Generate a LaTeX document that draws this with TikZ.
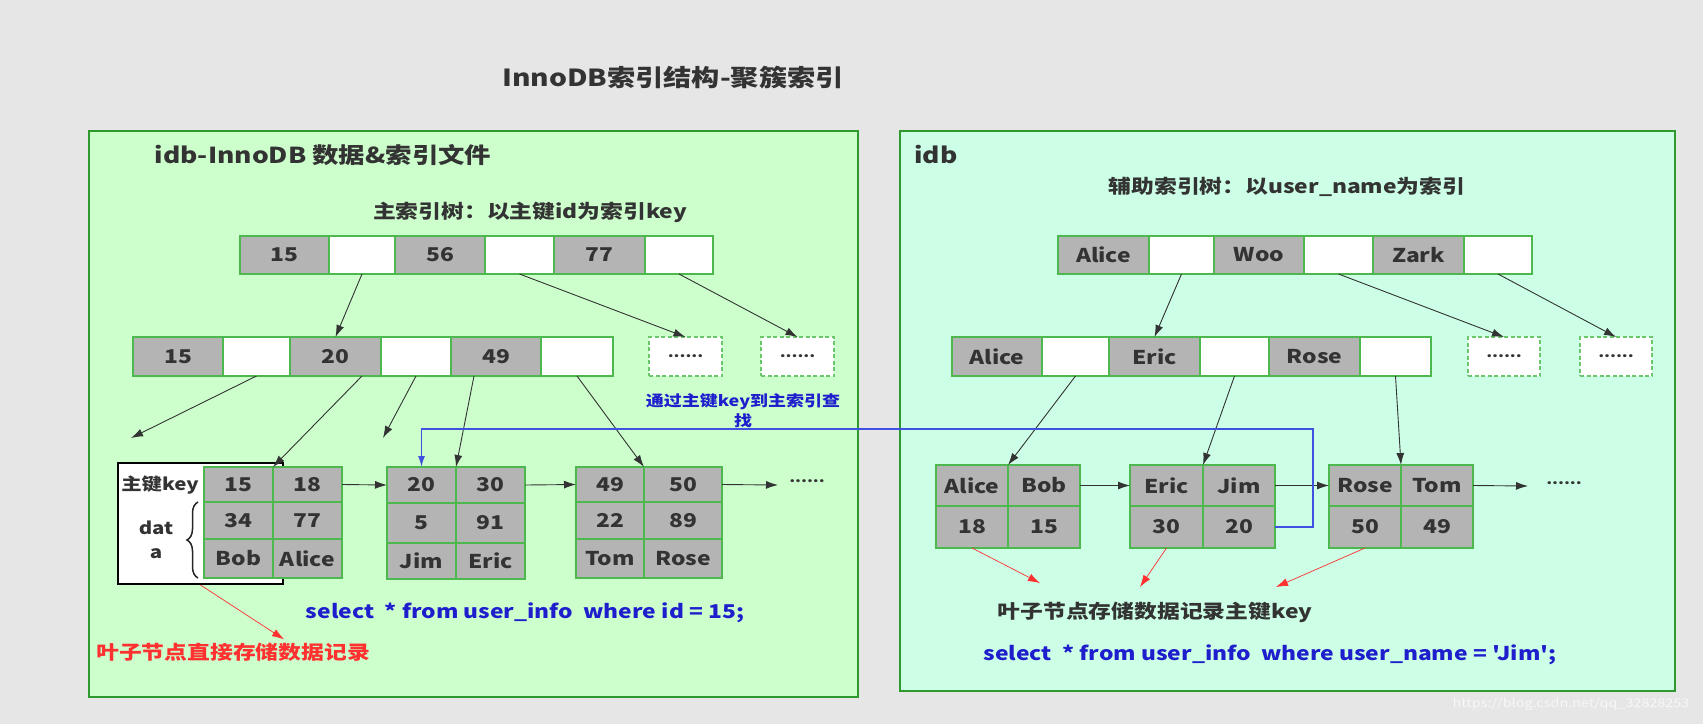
\documentclass[tikz,border=0pt]{standalone}
\usepackage{fontspec}
\newfontfamily\cjk{Noto Sans CJK SC}[FakeStretch=1.2]
\usetikzlibrary{arrows.meta,decorations.pathreplacing,calc}
\definecolor{bgc}{HTML}{E6E6E6}
\definecolor{leftfill}{HTML}{CCFFCC}
\definecolor{rightfill}{HTML}{CCFFE6}
\definecolor{boxgreen}{HTML}{2E9A2E}
\definecolor{cellgreen}{HTML}{4DB84D}
\definecolor{cellgray}{HTML}{B4B4B4}
\definecolor{dashgreen}{HTML}{6CC66C}
\definecolor{arrgray}{HTML}{333333}
\definecolor{blueline}{HTML}{4050E0}
\definecolor{bluetxt}{HTML}{1E1ECC}
\definecolor{redc}{HTML}{FF3030}
\definecolor{txt}{HTML}{333333}
\newcommand\fs[1]{\fontsize{#1}{#1}\selectfont}
\newcommand\mkcell[7]{\node[#2, minimum width=#5pt, minimum height=#6pt] (#1) at (#3,#4) {#7};}
\begin{document}
\begin{tikzpicture}[x=1pt,y=-1pt,
  every node/.style={font=\cjk\bfseries\fs{19}, text=txt},
  cellbase/.style={anchor=north west, inner sep=0pt, outer sep=0pt, draw=cellgreen, line width=1.6pt},
  gcell/.style={cellbase, fill=cellgray},
  wcell/.style={cellbase, fill=white},
  dcell/.style={anchor=north west, inner sep=0pt, outer sep=0pt, draw=dashgreen, line width=1.6pt, dash pattern=on 4pt off 2.5pt, fill=white, font=\cjk\bfseries\fs{14}},
  tarr/.style={draw=arrgray, line width=0.9pt, -{Latex[length=12pt,width=8pt]}},
  rarr/.style={draw=redc, line width=0.7pt, -{Latex[length=12pt,width=8pt]}},
  bline/.style={draw=blueline, line width=1.5pt, -{Latex[length=11pt,width=7pt]}},
  bigbox/.style={anchor=north west, inner sep=0pt, outer sep=0pt, draw=boxgreen, line width=2.4pt},
  dotsnode/.style={font=\cjk\bfseries\fs{14}}
]
\fill[bgc] (0,0) rectangle (1703,724);
\useasboundingbox (0,0) rectangle (1703,724);

% panels
\node[bigbox, fill=leftfill, minimum width=769pt, minimum height=566pt] (lbox) at (89,131) {};
\node[bigbox, fill=rightfill, minimum width=775pt, minimum height=560pt] (rbox) at (900,131) {};

% titles
\node[font=\cjk\bfseries\fs{23.5}] (title) at (673,78) {InnoDB索引结构-聚簇索引};
\node[font=\cjk\bfseries\fs{22}] (ltitle) at (323,155) {idb-InnoDB 数据\&索引文件};
\node (lsub) at (530,212) {主索引树：以主键id为索引key};
\node[font=\cjk\bfseries\fs{22}] (rtitle) at (936,155) {idb};
\node (rsub) at (1287,187) {辅助索引树：以user\_name为索引};

% left tree top row
\mkcell{t1}{gcell}{240}{236}{89}{38}{15}
\mkcell{t2}{wcell}{329}{236}{66}{38}{}
\mkcell{t3}{gcell}{395}{236}{90}{38}{56}
\mkcell{t4}{wcell}{485}{236}{69}{38}{}
\mkcell{t5}{gcell}{554}{236}{91}{38}{77}
\mkcell{t6}{wcell}{645}{236}{68}{38}{}
% left second row
\mkcell{s1}{gcell}{133}{337}{90}{39}{15}
\mkcell{s2}{wcell}{223}{337}{67}{39}{}
\mkcell{s3}{gcell}{290}{337}{91}{39}{20}
\mkcell{s4}{wcell}{381}{337}{70}{39}{}
\mkcell{s5}{gcell}{451}{337}{90}{39}{49}
\mkcell{s6}{wcell}{541}{337}{72}{39}{}
\mkcell{d1}{dcell}{649}{337}{73}{39}{......}
\mkcell{d2}{dcell}{761}{337}{73}{39}{......}

% left leaf 1 with white label box
\node[anchor=north west, draw=black, line width=2pt, fill=white, inner sep=0pt, minimum width=165pt, minimum height=121pt] (wbox) at (117,462) {};
\mkcell{a11}{gcell}{204}{467}{69}{35}{15}
\mkcell{a12}{gcell}{273}{467}{69}{35}{18}
\mkcell{a21}{gcell}{204}{502}{69}{37}{34}
\mkcell{a22}{gcell}{273}{502}{69}{37}{77}
\mkcell{a31}{gcell}{204}{539}{69}{39}{Bob}
\mkcell{a32}{gcell}{273}{539}{69}{39}{Alice}
\node[font=\cjk\bfseries\fs{17}] (pk) at (160,485) {主键key};
\node[font=\cjk\bfseries\fs{17}] (dat1) at (156,528) {dat};
\node[font=\cjk\bfseries\fs{17}] (dat2) at (156,554) {a};
\draw[decorate, decoration={brace, amplitude=11pt}, line width=1.5pt, draw=black!85] ([xshift=-6pt]a31.south west) -- ([xshift=-6pt]a21.north west);

% left leaf 2
\mkcell{b11}{gcell}{387}{467}{69}{36}{20}
\mkcell{b12}{gcell}{456}{467}{69}{36}{30}
\mkcell{b21}{gcell}{387}{503}{69}{40}{5}
\mkcell{b22}{gcell}{456}{503}{69}{40}{91}
\mkcell{b31}{gcell}{387}{543}{69}{36}{Jim}
\mkcell{b32}{gcell}{456}{543}{69}{36}{Eric}
% left leaf 3
\mkcell{c11}{gcell}{576}{467}{68}{35}{49}
\mkcell{c12}{gcell}{644}{467}{78}{35}{50}
\mkcell{c21}{gcell}{576}{502}{68}{37}{22}
\mkcell{c22}{gcell}{644}{502}{78}{37}{89}
\mkcell{c31}{gcell}{576}{539}{68}{39}{Tom}
\mkcell{c32}{gcell}{644}{539}{78}{39}{Rose}
\node[dotsnode] (dl) at (807,481) {......};

% left texts
\node[font=\cjk\bfseries\fs{15}, text=bluetxt, align=center] (bnote) at (743,411) {通过主键key到主索引查\\[3pt]找};
\node[text=redc] (lnote) at (233,652) {叶子节点直接存储数据记录};
\node[text=bluetxt] (lsel) at (525,613) {select\ \ * from user\_info\ \ where id = 15;};

% right tree top row
\mkcell{u1}{gcell}{1058}{236}{91}{38}{Alice}
\mkcell{u2}{wcell}{1149}{236}{65}{38}{}
\mkcell{u3}{gcell}{1214}{236}{90}{38}{Woo}
\mkcell{u4}{wcell}{1304}{236}{69}{38}{}
\mkcell{u5}{gcell}{1373}{236}{91}{38}{Zark}
\mkcell{u6}{wcell}{1464}{236}{68}{38}{}
% right second row
\mkcell{v1}{gcell}{952}{337}{90}{39}{Alice}
\mkcell{v2}{wcell}{1042}{337}{67}{39}{}
\mkcell{v3}{gcell}{1109}{337}{91}{39}{Eric}
\mkcell{v4}{wcell}{1200}{337}{69}{39}{}
\mkcell{v5}{gcell}{1269}{337}{91}{39}{Rose}
\mkcell{v6}{wcell}{1360}{337}{71}{39}{}
\mkcell{e1}{dcell}{1468}{337}{72}{39}{......}
\mkcell{e2}{dcell}{1580}{337}{72}{39}{......}
% right leaves
\mkcell{ra11}{gcell}{936}{465}{72}{41}{Alice}
\mkcell{ra12}{gcell}{1008}{465}{72}{41}{Bob}
\mkcell{ra21}{gcell}{936}{506}{72}{42}{18}
\mkcell{ra22}{gcell}{1008}{506}{72}{42}{15}
\mkcell{rb11}{gcell}{1130}{465}{73}{41}{Eric}
\mkcell{rb12}{gcell}{1203}{465}{72}{41}{Jim}
\mkcell{rb21}{gcell}{1130}{506}{73}{42}{30}
\mkcell{rb22}{gcell}{1203}{506}{72}{42}{20}
\mkcell{rc11}{gcell}{1329}{465}{72}{41}{Rose}
\mkcell{rc12}{gcell}{1401}{465}{72}{41}{Tom}
\mkcell{rc21}{gcell}{1329}{506}{72}{42}{50}
\mkcell{rc22}{gcell}{1401}{506}{72}{42}{49}
\node[dotsnode] (dr) at (1564,483) {......};

% right texts
\node (rnote) at (1155,612) {叶子节点存储数据记录主键key};
\node[text=bluetxt] (rsel) at (1270,655) {select\ \ * from user\_info\ \ where user\_name = 'Jim';};
\node[font=\cjk\fs{12}, text=white!97!black] (wm) at (1571,704) {https://blog.csdn.net/qq\_32828253};

% free ends
\coordinate (f1) at (131,438);
\coordinate (f2) at (383,438);
\coordinate (f3) at (778,485);
\coordinate (f4) at (1528,486);
\coordinate (g1) at (1040,583);
\coordinate (g2) at (1140,587);
\coordinate (g3) at (1276,587);
\coordinate (bturn) at (1313,429);

% left tree connectors
\draw[tarr] (t2.south) -- (s3.north);
\draw[tarr] (t4.south) -- (d1.north);
\draw[tarr] (t6.south) -- (d2.north);
\draw[tarr] (s2.south) -- (f1);
\draw[tarr] ([xshift=-19pt]s3.south east) -- (a11.north east);
\draw[tarr] (s4.south) -- (f2);
\draw[tarr] ([xshift=23pt]s5.south west) -- (b11.north east);
\draw[tarr] (s6.south) -- (c11.north east);
\draw[tarr] (a12.east) -- (b11.west);
\draw[tarr] (b12.east) -- (c11.west);
\draw[tarr] (c12.east) -- (f3);

% right tree connectors
\draw[tarr] (u2.south) -- (v3.north);
\draw[tarr] (u4.south) -- (e1.north);
\draw[tarr] (u6.south) -- (e2.north);
\draw[tarr] (v2.south) -- (ra11.north east);
\draw[tarr] (v4.south) -- (rb11.north east);
\draw[tarr] (v6.south) -- (rc11.north east);
\draw[tarr] (ra12.east) -- (rb11.west);
\draw[tarr] (rb12.east) -- (rc11.west);
\draw[tarr] (rc12.east) -- (f4);

% blue lookup connector
\draw[bline] (rb22.east) -| (bturn) -| (b11.north);

% red connectors
\draw[rarr] (wbox.south) -- ([xshift=51pt]lnote.north);
\draw[rarr] (ra21.south) -- (g1);
\draw[rarr] (rb21.south) -- (g2);
\draw[rarr] (rc21.south) -- (g3);
\end{tikzpicture}
\end{document}
